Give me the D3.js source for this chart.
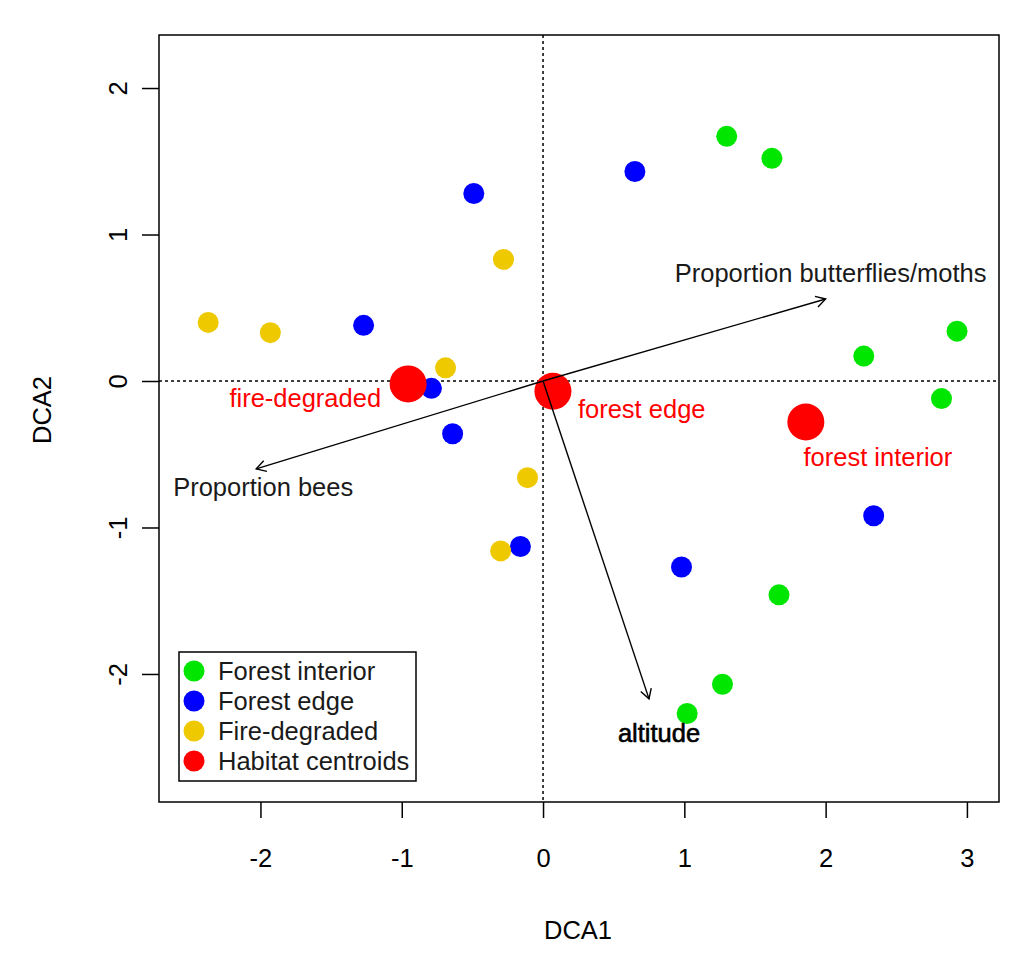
<!DOCTYPE html>
<html><head><meta charset="utf-8">
<script src="https://cdn.jsdelivr.net/npm/d3@7"></script>
<style>
body{margin:0;background:#fff}
svg text{font-family:"Liberation Sans",Arial,Helvetica,sans-serif}
</style>
</head><body>
<svg id="c" width="1024" height="964"></svg>
<script>
// ---- data ----
const xTicks = [-2, -1, 0, 1, 2, 3];
const yTicks = [-2, -1, 0, 1, 2];
const forestInterior = [[1.30,1.67],[1.62,1.52],[2.27,0.17],[2.93,0.34],[2.82,-0.12],[1.67,-1.46],[1.27,-2.07],[1.02,-2.27]];
const forestEdge = [[0.65,1.43],[-0.49,1.28],[-1.27,0.38],[-0.79,-0.05],[-0.64,-0.36],[-0.16,-1.13],[0.98,-1.27],[2.34,-0.92]];
const fireDegraded = [[-2.37,0.40],[-1.93,0.33],[-0.28,0.83],[-0.69,0.09],[-0.11,-0.66],[-0.30,-1.16]];
const centroidNames = ["fire-degraded", "forest edge", "forest interior"];
const centroidX = [-0.955, 0.07, 1.86];
const centroidY = [-0.02, -0.07, -0.28];
const vectorNames = ["Proportion butterflies/moths", "Proportion bees", "altitude"];
const vectorX = [2.00, -2.03, 0.75];
const vectorY = [0.56, -0.60, -2.17];
const legendLabels = ["Forest interior", "Forest edge", "Fire-degraded", "Habitat centroids"];
const groupColors = ["#00e600", "#0000ff", "#eec900", "#ff0000"];
const xTitle = "DCA1", yTitle = "DCA2";

// ---- layout ----
const svg = d3.select("#c");
const L = 159, R = 999, T = 35, B = 802;
const FS = 25.5;
const x = d3.scaleLinear().domain([-2.718, 3.227]).range([L, R]);
const y = d3.scaleLinear().domain([-2.874, 2.362]).range([B, T]);

// axes
const xa = svg.append("g").attr("transform", `translate(0,${B})`)
  .call(d3.axisBottom(x).tickValues(xTicks).tickSize(16).tickPadding(31).tickFormat(d => String(d)));
xa.select(".domain").remove();
xa.selectAll("line").attr("stroke", "#000").attr("stroke-width", 1.5);
xa.selectAll("text").attr("font-size", FS).attr("fill", "#000").style("font-family", '"Liberation Sans",Arial,sans-serif');

const ya = svg.append("g").attr("transform", `translate(${L},0)`)
  .call(d3.axisLeft(y).tickValues(yTicks).tickSize(17).tickFormat(d => String(d)));
ya.select(".domain").remove();
ya.selectAll("line").attr("stroke", "#000").attr("stroke-width", 1.5);
ya.selectAll("text").attr("x", 0).attr("dy", "0.36em")
  .attr("transform", "translate(-41,0) rotate(-90)")
  .attr("text-anchor", "middle")
  .attr("font-size", FS).attr("fill", "#000").style("font-family", '"Liberation Sans",Arial,sans-serif');

// axis titles
svg.append("text").attr("x", 578).attr("y", 939).attr("text-anchor", "middle")
  .attr("font-size", FS).text(xTitle);
svg.append("text").attr("transform", "translate(51,410) rotate(-90)").attr("text-anchor", "middle")
  .attr("font-size", FS).text(yTitle);

// dotted zero lines
const dots = svg.append("g").attr("stroke", "#000").attr("stroke-width", 1.5).attr("stroke-dasharray", "3,3");
dots.append("line").attr("x1", L).attr("x2", R).attr("y1", y(0)).attr("y2", y(0));
dots.append("line").attr("x1", x(0)).attr("x2", x(0)).attr("y1", T).attr("y2", B);

// points
const groups = [forestInterior, forestEdge, fireDegraded];
groups.forEach((pts, i) => {
  svg.append("g").selectAll("circle").data(pts).join("circle")
    .attr("cx", d => x(d[0])).attr("cy", d => y(d[1])).attr("r", 10.5)
    .attr("fill", groupColors[i]);
});

// centroids
svg.append("g").selectAll("circle").data(centroidX).join("circle")
  .attr("cx", d => x(d)).attr("cy", (d, i) => y(centroidY[i])).attr("r", 18.5)
  .attr("fill", groupColors[3]);

// vectors
const vg = svg.append("g").attr("stroke", "#000").attr("stroke-width", 1.4).attr("fill", "none");
vectorX.forEach((vx, i) => {
  const x0 = x(0), y0 = y(0), x1 = x(vx), y1 = y(vectorY[i]);
  vg.append("line").attr("x1", x0).attr("y1", y0).attr("x2", x1).attr("y2", y1);
  const a = Math.atan2(y1 - y0, x1 - x0), hl = 11, ha = Math.PI / 6;
  const p1 = [x1 - hl * Math.cos(a - ha), y1 - hl * Math.sin(a - ha)];
  const p2 = [x1 - hl * Math.cos(a + ha), y1 - hl * Math.sin(a + ha)];
  vg.append("path").attr("d", `M${p1[0]},${p1[1]}L${x1},${y1}L${p2[0]},${p2[1]}`);
});

// vector labels (offsets from arrow tips)
const vecOff = [[5, -17], [7, 27], [10, 43]];
vectorNames.forEach((n, i) => {
  const t = svg.append("text").attr("x", x(vectorX[i]) + vecOff[i][0]).attr("y", y(vectorY[i]) + vecOff[i][1])
    .attr("text-anchor", "middle").attr("font-size", FS).attr("fill", i === 2 ? "#000" : "#1a1a1a")
    .text(n);
  if (i === 2) t.attr("stroke", "#000").attr("stroke-width", 0.6);
});

// centroid labels
const cOff = [[-27, 23, "end"], [25, 27, "start"], [72, 44, "middle"]];
centroidNames.forEach((n, i) => {
  svg.append("text").attr("x", x(centroidX[i]) + cOff[i][0]).attr("y", y(centroidY[i]) + cOff[i][1])
    .attr("text-anchor", cOff[i][2]).attr("font-size", FS).attr("fill", "#ff0000").text(n);
});

// legend
const lg = svg.append("g");
lg.append("rect").attr("x", 179).attr("y", 652).attr("width", 237).attr("height", 129)
  .attr("fill", "#fff").attr("stroke", "#000").attr("stroke-width", 1.5);
legendLabels.forEach((t, i) => {
  const cy = 671 + i * 30;
  lg.append("circle").attr("cx", 194).attr("cy", cy).attr("r", 10.5).attr("fill", groupColors[i]);
  lg.append("text").attr("x", 218).attr("y", cy + 9).attr("font-size", FS).attr("fill", "#1a1a1a").text(t);
});

// plot box
svg.append("rect").attr("x", L).attr("y", T).attr("width", R - L).attr("height", B - T)
  .attr("fill", "none").attr("stroke", "#000").attr("stroke-width", 1.5);
</script>
</body></html>
